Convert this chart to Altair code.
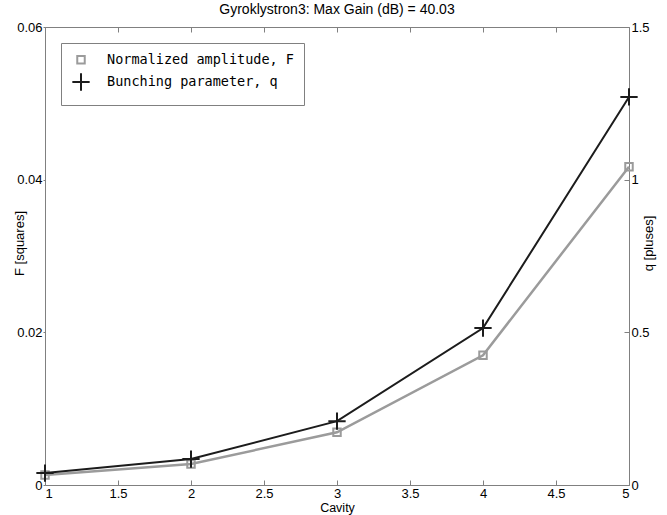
import altair as alt
import pandas as pd

cavity = [1, 2, 3, 4, 5]
F_vals = [0.0013, 0.00275, 0.0069, 0.0170, 0.0417]
q_vals = [0.039, 0.085, 0.209, 0.514, 1.271]
x_ticks = [1, 1.5, 2, 2.5, 3, 3.5, 4, 4.5, 5]
F_ticks = [0, 0.02, 0.04, 0.06]
q_ticks = [0, 0.5, 1, 1.5]
series = ["Normalized amplitude, F", "Bunching parameter, q"]
chart_title = "Gyroklystron3: Max Gain (dB) = 40.03"

dfF = pd.DataFrame({"Cavity": cavity, "F": F_vals, "series": series[0]})
dfq = pd.DataFrame({"Cavity": cavity, "q": q_vals, "series": series[1]})

GRAY = "#9b9b9b"
BLACK = "#1c1c1c"
AX = "#808080"
FONT = "Liberation Sans"
MONO = "DejaVu Sans Mono"

legend = alt.Legend(
    orient="none", legendX=16, legendY=16, title=None,
    fillColor="white", strokeColor=AX, padding=10,
    labelFont=MONO, labelFontSize=13.5, labelColor="black", labelLimit=400,
    labelOffset=16, rowPadding=1, symbolStrokeWidth=2,
)
color = alt.Color("series:N", scale=alt.Scale(domain=series, range=[GRAY, BLACK]), legend=legend)
shape = alt.Shape("series:N", scale=alt.Scale(domain=series, range=["square", "M-1,0H1M0,-1V1"]), legend=legend)
size = alt.Size("series:N", scale=alt.Scale(domain=series, range=[56, 300]), legend=legend)

xscale = alt.Scale(domain=[1, 5], nice=False, zero=False)

x_bottom = alt.X(
    "Cavity:Q", scale=xscale,
    axis=alt.Axis(values=x_ticks, format="~g", title="Cavity", orient="bottom",
                  tickSize=5, offset=-5, domain=False, grid=False, labelPadding=2,
                  titlePadding=1, titleFontSize=12.5),
)
x_top = alt.X(
    "Cavity:Q", scale=xscale,
    axis=alt.Axis(values=x_ticks, title=None, orient="top", labels=False,
                  tickSize=5, offset=-5, domain=False, grid=False),
)
yF = alt.Y(
    "F:Q", scale=alt.Scale(domain=[0, 0.06], nice=False),
    axis=alt.Axis(values=F_ticks, format="~g", title="F [squares]", orient="left",
                  tickSize=2, domain=False, grid=False, labelPadding=1,
                  titleX=-26, titleY=216, titleBaseline="middle", titleAngle=270),
)
yq = alt.Y(
    "q:Q", scale=alt.Scale(domain=[0, 1.5], nice=False),
    axis=alt.Axis(values=q_ticks, format="~g", title="q [pluses]", orient="right",
                  tickSize=5, offset=-5, domain=False, grid=False, labelPadding=2,
                  titleX=24, titleY=216, titleBaseline="middle", titleAngle=270),
)

baseF = alt.Chart(dfF).encode(x=x_bottom, y=yF)
F_line = baseF.mark_line(color=GRAY, strokeWidth=2.5)
F_pts = baseF.mark_point(filled=False, strokeWidth=2, opacity=1).encode(color=color, shape=shape, size=size)

baseq = alt.Chart(dfq).encode(x=x_top, y=yq)
q_line = baseq.mark_line(color=BLACK, strokeWidth=2)
q_pts = baseq.mark_point(filled=False, strokeWidth=2, opacity=1).encode(color=color, shape=shape, size=size)

chart = (
    alt.layer(alt.layer(F_line, F_pts), alt.layer(q_line, q_pts))
    .resolve_scale(y="independent")
    .resolve_axis(x="independent")
    .properties(
        width=584, height=458,
        background="white",
        title=alt.TitleParams(chart_title, font=FONT, fontSize=14, fontWeight="normal",
                              color="black", anchor="middle", offset=4),
        autosize=alt.AutoSizeParams(type="none"),
        padding={"left": 45, "top": 27, "right": 38, "bottom": 30},
    )
    .configure_view(stroke=AX, strokeWidth=1)
    .configure_axis(labelFont=FONT, labelFontSize=13, labelColor="black",
                    titleFont=FONT, titleFontSize=13, titleColor="black",
                    titleFontWeight="normal", tickColor=AX)
)

chart.save("out.html", embed_options={"renderer": "svg", "actions": False})
